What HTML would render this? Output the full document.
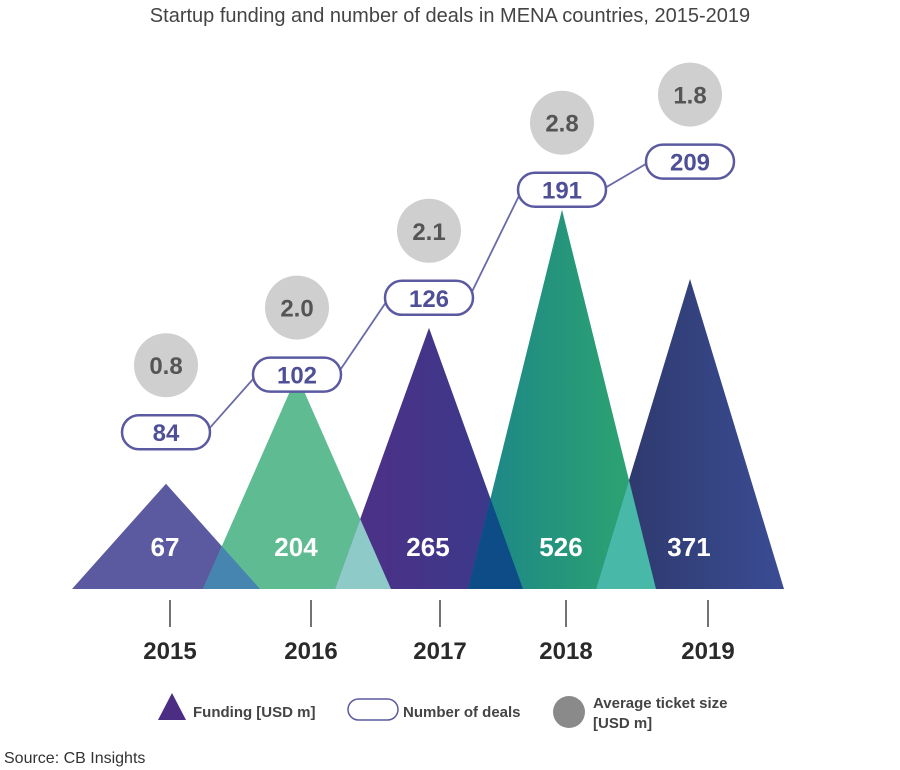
<!DOCTYPE html>
<html><head><meta charset="utf-8"><style>
body{margin:0;background:#fff;}
svg{display:block;font-family:"Liberation Sans",sans-serif;}
</style></head><body>
<svg width="900" height="770">
<defs id="defs"></defs>
<text x="450" y="22" text-anchor="middle" font-size="20" fill="#444">Startup funding and number of deals in MENA countries, 2015-2019</text>
<g id="marks"></g>
<g>
<polygon points="158,720 172,693 186,720" fill="#4b2d84"/>
<text x="193" y="717" font-size="15" font-weight="bold" fill="#444">Funding [USD m]</text>
<rect x="348" y="699" width="50" height="21" rx="10.5" fill="#fff" stroke="#5b5aa0" stroke-width="1.5"/>
<text x="403" y="717" font-size="15" font-weight="bold" fill="#444">Number of deals</text>
<circle cx="569" cy="712" r="16" fill="#8a8a8a"/>
<text x="593" y="708" font-size="15" font-weight="bold" fill="#444">Average ticket size</text>
<text x="593" y="728" font-size="15" font-weight="bold" fill="#444">[USD m]</text>
</g>
<text x="4" y="763" font-size="16" fill="#333">Source: CB Insights</text>
</svg>
<script>
const years=["2015","2016","2017","2018","2019"];
const funding=[67,204,265,526,371];
const deals=[84,102,126,191,209];
const ticket=["0.8","2.0","2.1","2.8","1.8"];
const NS="http://www.w3.org/2000/svg";
const centers=[166,297,429,562,690];
const tickX=[170,311,440,566,708];
const baseY=589, halfW=94;
function poly(dom,rng,v){
  let i=0;while(i<dom.length-2&&v>dom[i+1])i++;
  const t=(v-dom[i])/(dom[i+1]-dom[i]);return rng[i]+t*(rng[i+1]-rng[i]);
}
function hScale(v){return poly([0,70,270,530],[0,110,265,381],v);}
function yDeals(d){return poly([80,130,210],[445,285,160],d);}
const fills=[["#5b5aa0","#5b5aa0"],["#5fbb92","#5fbb92"],["#4f2f86","#383b8c"],["#1b8489","#2fa86e"],["#2c3666","#3a4c94"]];
const overlapFill=["#4585b0","#8ecac8","#0d4c86","#48b8a8"];
const defs=document.getElementById('defs');
const g=document.getElementById('marks');
function mk(t,a,p){const e=document.createElementNS(NS,t);for(const k in a)e.setAttribute(k,a[k]);(p||g).appendChild(e);return e;}
function triPts(i){const h=hScale(funding[i]);const c=centers[i];return (c-halfW)+","+baseY+" "+c+","+(baseY-h)+" "+(c+halfW)+","+baseY;}
years.forEach((y,i)=>{
  const gr=mk('linearGradient',{id:'gr'+i,x1:'0',y1:'0',x2:'1',y2:'0'},defs);
  mk('stop',{offset:'0',"stop-color":fills[i][0]},gr);mk('stop',{offset:'1',"stop-color":fills[i][1]},gr);
  const cp=mk('clipPath',{id:'cp'+i},defs);mk('polygon',{points:triPts(i)},cp);
});
years.forEach((y,i)=>{
  const t=mk('polygon',{points:triPts(i),fill:'url(#gr'+i+')'});
  
  
  if(i>0){const o=mk('polygon',{points:triPts(i),fill:overlapFill[i-1],"clip-path":'url(#cp'+(i-1)+')'});
  
  }
});
years.forEach((y,i)=>{
  const t=mk('text',{x:centers[i]-1,y:556,"text-anchor":'middle',"font-size":26,"font-weight":'bold',fill:'#fff'});t.textContent=funding[i];
  
  
  const l=mk('line',{x1:tickX[i],x2:tickX[i],y1:600,y2:627,stroke:'#444',"stroke-width":1.5});
  
  
  const yl=mk('text',{x:tickX[i],y:659,"text-anchor":'middle',"font-size":24,"font-weight":'bold',fill:'#2a2a2a'});yl.textContent=y;
  
  
});
const pw=88,ph=34;
for(let i=0;i<years.length-1;i++){
  const l=mk('line',{x1:centers[i]+pw/2-4,y1:yDeals(deals[i]),x2:centers[i+1]-pw/2+4,y2:yDeals(deals[i+1]),stroke:'#6a6aa8',"stroke-width":1.8});
  
  
}
years.forEach((y,i)=>{
  const cy=yDeals(deals[i]);
  const r=mk('rect',{x:centers[i]-pw/2,y:cy-ph/2,width:pw,height:ph,rx:17,fill:'#fff',stroke:'#5b5aa0',"stroke-width":2.5});
  
  
  const t=mk('text',{x:centers[i],y:cy+9,"text-anchor":'middle',"font-size":24,"font-weight":'bold',fill:'#4f4f98'});t.textContent=deals[i];
  
  
  const c=mk('circle',{cx:centers[i],cy:cy-67,r:32,fill:'#cfcfcf'});
  
  
  const tt=mk('text',{x:centers[i],y:cy-58,"text-anchor":'middle',"font-size":24,"font-weight":'bold',fill:'#555'});tt.textContent=ticket[i];
  
  
});
</script>
</body></html>
